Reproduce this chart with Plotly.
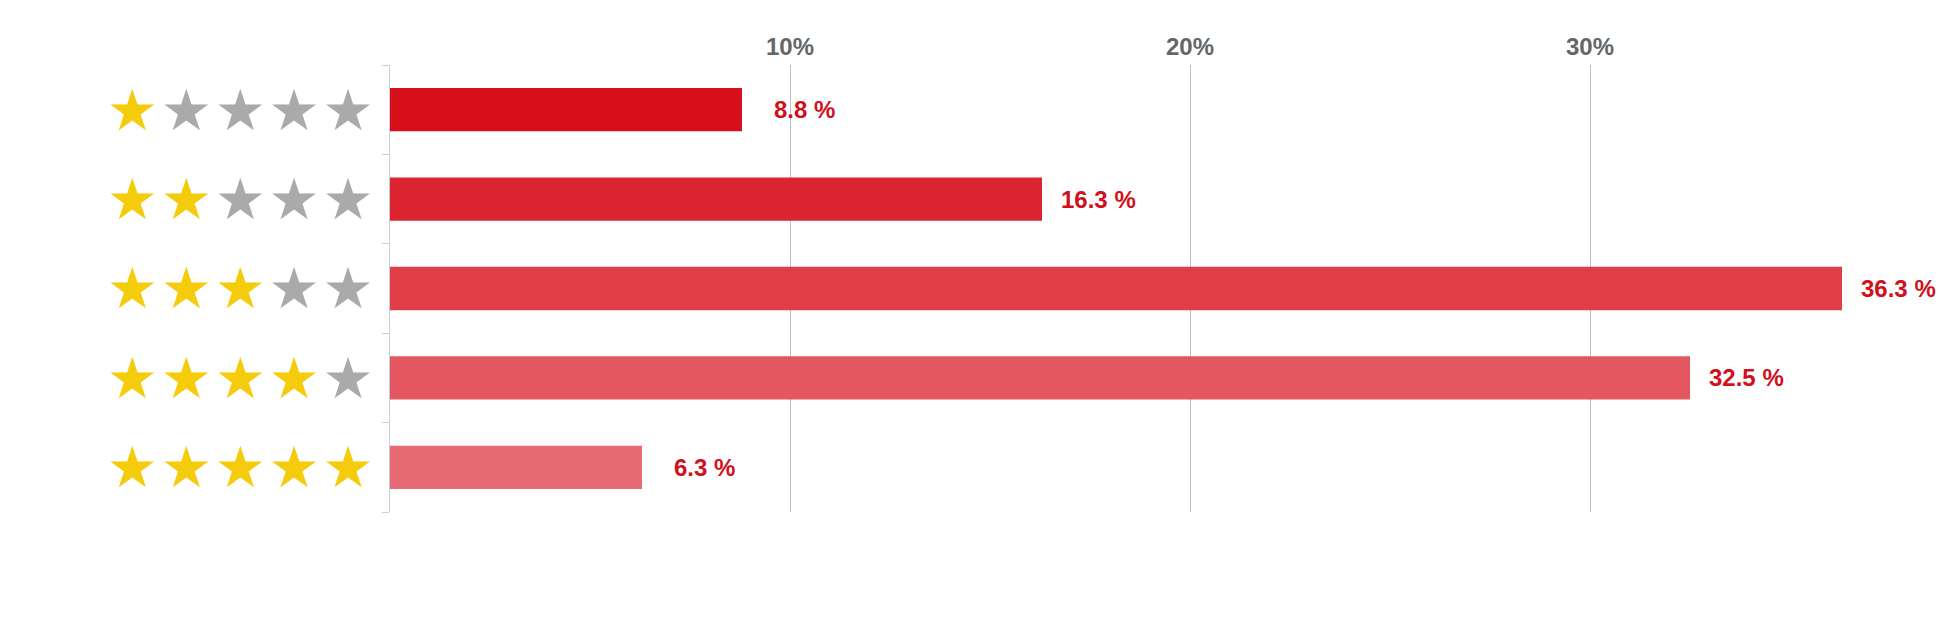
import plotly.graph_objects as go

ratings = ["1 star", "2 stars", "3 stars", "4 stars", "5 stars"]
star_counts = [1, 2, 3, 4, 5]
shares = [8.8, 16.3, 36.3, 32.5, 6.3]
bar_colors = ["#d70f1a", "#dc2431", "#e03d48", "#e45660", "#e86b74"]
x_ticks = [10, 20, 30]
x_tick_labels = ["10%", "20%", "30%"]

GOLD = "#f5cc0c"
GREY = "#aaaaaa"
SEP = '<span style="font-size:28px">\u200a</span>'


def star_label(n):
    parts = []
    for i in range(5):
        c = GOLD if i < n else GREY
        parts.append(f'<span style="color:{c}">★</span>')
    return SEP.join(parts)


fig = go.Figure()
fig.add_trace(go.Bar(
    x=shares,
    y=ratings,
    orientation="h",
    marker=dict(color=bar_colors, line=dict(width=0)),
    hoverinfo="skip",
    showlegend=False,
))

for r, v in zip(ratings, shares):
    fig.add_annotation(
        x=v, y=r, xref="x", yref="y",
        text=f"<b>{v:.1f} %</b>",
        showarrow=False,
        xanchor="left",
        yanchor="middle",
        xshift=30 if v < 10 else 17,
        font=dict(family="Liberation Sans, Arial, sans-serif", size=24, color="#d0101b"),
    )

fig.update_layout(
    width=1950,
    height=625,
    margin=dict(l=382, r=28, t=57, b=121),
    paper_bgcolor="white",
    plot_bgcolor="white",
    bargap=0.516,
    xaxis=dict(
        side="top",
        range=[0, 38.5],
        tickvals=x_ticks,
        ticktext=[f"<b>{t}</b>" for t in x_tick_labels],
        tickfont=dict(family="Liberation Sans, Arial, sans-serif", size=24, color="#666666"),
        showgrid=True,
        gridcolor="#c0c0c0",
        gridwidth=1,
        zeroline=False,
        showline=False,
        ticks="",
        ticklabelstandoff=4,
        fixedrange=True,
    ),
    yaxis=dict(
        categoryorder="array",
        categoryarray=ratings,
        autorange="reversed",
        tickvals=ratings,
        ticktext=[star_label(n) for n in star_counts],
        tickfont=dict(family="DejaVu Sans", size=57),
        showline=True,
        linecolor="#c0d0e0",
        linewidth=1,
        ticks="outside",
        tickson="boundaries",
        ticklen=7,
        tickcolor="#c0d0e0",
        ticklabelstandoff=4,
        showgrid=False,
        zeroline=False,
        fixedrange=True,
    ),
)

fig.write_html("out.html")
